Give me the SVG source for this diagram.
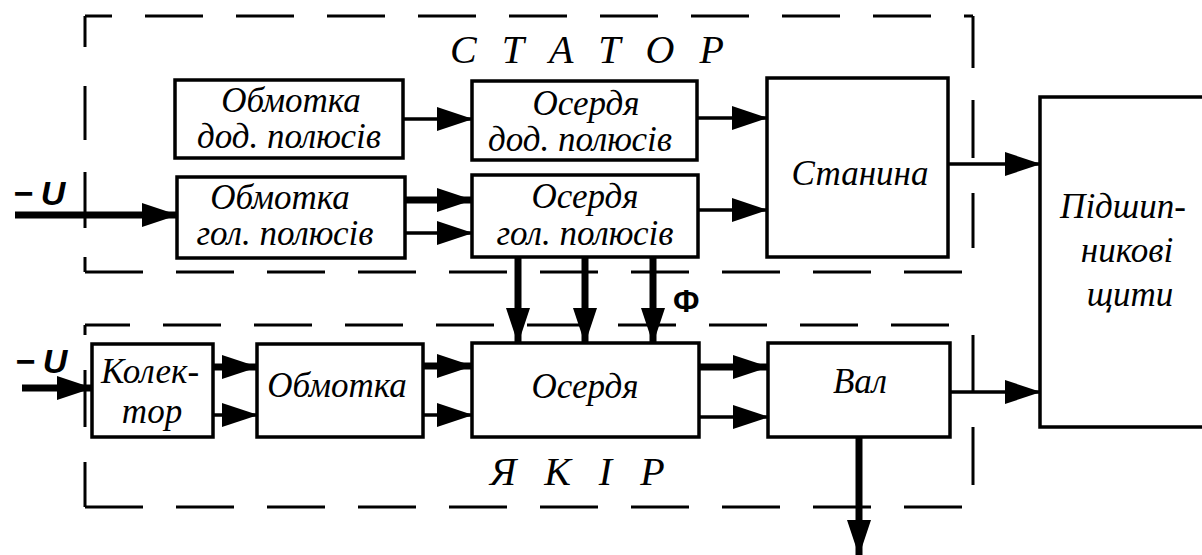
<svg xmlns="http://www.w3.org/2000/svg" width="1202" height="555" viewBox="0 0 1202 555">
<style>
.box{fill:#fff;stroke:#000;stroke-width:3.5}
.t{font-family:'Liberation Serif','Times New Roman',serif;font-style:italic;font-size:35px;fill:#000;text-anchor:middle}
.big{font-family:'Liberation Serif','Times New Roman',serif;font-style:italic;font-size:40px;fill:#000}
.lbl{font-family:'Liberation Sans',Arial,sans-serif;font-weight:bold;fill:#000}
.dash{fill:none;stroke:#000;stroke-width:3}
.thin{fill:none;stroke:#000;stroke-width:3.5;marker-end:url(#ah)}
.thick{fill:none;stroke:#000;stroke-width:7;marker-end:url(#ah)}
</style>
<defs>
<marker id="ah" markerUnits="userSpaceOnUse" markerWidth="36" markerHeight="24" refX="35" refY="12" orient="auto">
<path d="M0,0 L36,12 L0,24 Z" fill="#000"/>
</marker>
</defs>
<rect width="1202" height="555" fill="#fff"/>

<g id="stator-frame">
<path class="dash" d="M85 16 H973" stroke-dasharray="58 33" stroke-dashoffset="31"/>
<path class="dash" d="M973 16 V68 M973 100 V158 M973 193 V248"/>
<path class="dash" d="M85 272 H973" stroke-dasharray="58 33"/>
<path class="dash" d="M85 16 V47 M85 86 V140 M85 172 V228 M85 257 V272"/>
<text class="big" x="450" y="63" letter-spacing="7.5">С Т А Т О Р</text>
</g>

<g id="armature-frame">
<path class="dash" d="M85 325 H973" stroke-dasharray="58 33" stroke-dashoffset="13"/>
<path class="dash" d="M973 335 V392 M973 427 V485"/>
<path class="dash" d="M85 507 H973" stroke-dasharray="58 33"/>
<path class="dash" d="M85 325 V335 M85 370 V427 M85 462 V507"/>
<text class="big" x="490" y="485" letter-spacing="9">Я К І Р</text>
</g>

<g id="connectors">
<path class="thick" d="M15 215 H177"/>
<path class="thin" d="M403 119 H472"/>
<path class="thin" d="M697 118 H767"/>
<path class="thick" d="M405 200 H472"/>
<path class="thin" d="M405 233 H472"/>
<path class="thin" d="M698 210 H767"/>
<path class="thin" d="M948 164 H1040"/>
<path class="thick" d="M518 257 V343"/>
<path class="thick" d="M585 257 V343"/>
<path class="thick" d="M653 257 V343"/>
<path class="thick" d="M22 388 H92"/>
<path class="thick" d="M213 367 H257"/>
<path class="thin" d="M213 415 H257"/>
<path class="thick" d="M423 366 H472"/>
<path class="thin" d="M423 415 H472"/>
<path class="thick" d="M699 367 H768"/>
<path class="thin" d="M699 417 H768"/>
<path class="thin" d="M950 392 H1040"/>
<path class="thick" d="M859 437 V555"/>
</g>

<g id="labels">
<text class="lbl" x="13" y="205" font-size="34" font-style="italic">−<tspan dx="8">U</tspan></text>
<text class="lbl" x="15" y="373" font-size="34" font-style="italic">−<tspan dx="8">U</tspan></text>
<text class="lbl" x="673" y="312" font-size="31">Ф</text>
</g>

<g id="obm-dod">
<rect class="box" x="175" y="80" width="228" height="78"/>
<text class="t" x="291" y="112">Обмотка</text>
<text class="t" x="289" y="148">дод. полюсів</text>
</g>
<g id="oserd-dod">
<rect class="box" x="472" y="81" width="225" height="79"/>
<text class="t" x="586" y="115">Осердя</text>
<text class="t" x="580" y="151">дод. полюсів</text>
</g>
<g id="stanyna">
<rect class="box" x="767" y="78" width="181" height="179"/>
<text class="t" x="860" y="185">Станина</text>
</g>
<g id="obm-gol">
<rect class="box" x="177" y="177" width="228" height="81"/>
<text class="t" x="280" y="209">Обмотка</text>
<text class="t" x="285" y="245">гол. полюсів</text>
</g>
<g id="oserd-gol">
<rect class="box" x="472" y="175" width="226" height="82"/>
<text class="t" x="585" y="208">Осердя</text>
<text class="t" x="585" y="245">гол. полюсів</text>
</g>
<g id="pidshyp">
<rect class="box" x="1040" y="97" width="200" height="330"/>
<text class="t" x="1123" y="218">Підшип-</text>
<text class="t" x="1127" y="262">никові</text>
<text class="t" x="1130" y="306">щити</text>
</g>
<g id="kolektor">
<rect class="box" x="92" y="344" width="121" height="93"/>
<text class="t" x="150" y="383">Колек-</text>
<text class="t" x="152" y="423">тор</text>
</g>
<g id="obm-yakir">
<rect class="box" x="257" y="344" width="166" height="93"/>
<text class="t" x="337" y="397">Обмотка</text>
</g>
<g id="oserd-yakir">
<rect class="box" x="472" y="343" width="227" height="94"/>
<text class="t" x="585" y="398">Осердя</text>
</g>
<g id="val">
<rect class="box" x="768" y="343" width="182" height="94"/>
<text class="t" x="860" y="393">Вал</text>
</g>
</svg>
